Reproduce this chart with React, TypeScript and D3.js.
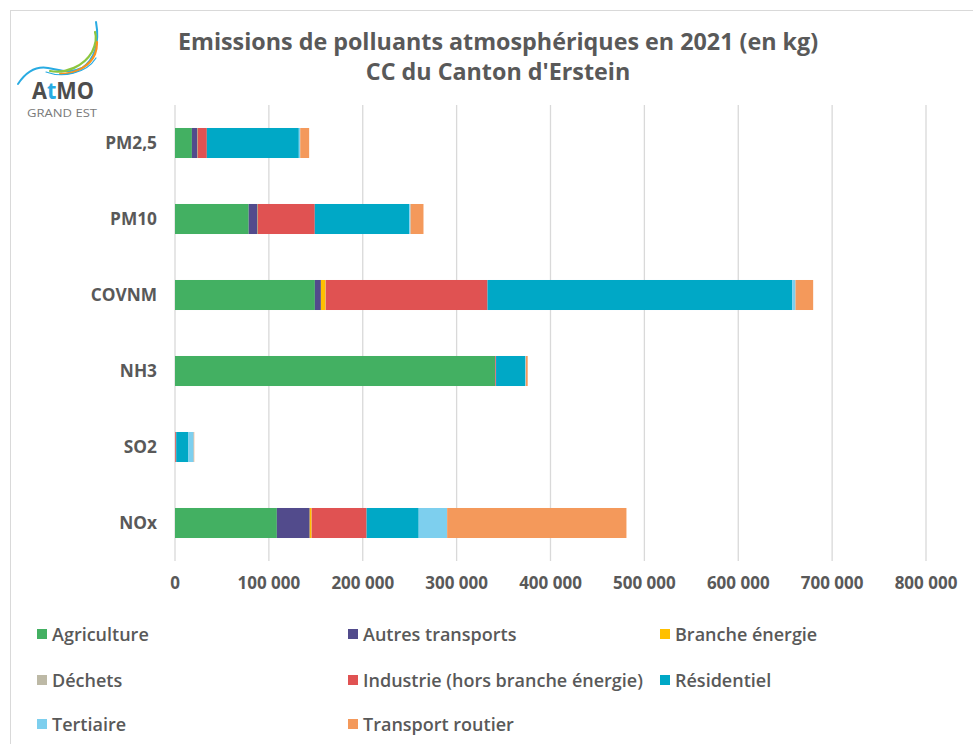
import React from "react";
import * as d3 from "d3";

const categories = ["PM2,5", "PM10", "COVNM", "NH3", "SO2", "NOx"];
const sectors = [
  "Agriculture",
  "Autres transports",
  "Branche énergie",
  "Déchets",
  "Industrie (hors branche énergie)",
  "Résidentiel",
  "Tertiaire",
  "Transport routier",
];
const agriculture = [18000, 78500, 149000, 341000, 0, 108500];
const autresTransports = [6000, 9500, 6400, 300, 200, 35000];
const brancheEnergie = [300, 300, 5000, 0, 100, 2000];
const dechets = [100, 100, 200, 0, 0, 100];
const industrie = [9500, 60500, 172300, 700, 1000, 58500];
const residentiel = [98000, 100500, 324500, 31000, 13000, 55500];
const tertiaire = [1500, 1500, 3600, 700, 5700, 30300];
const transportRoutier = [9500, 13800, 18800, 2000, 500, 191000];
const xTicks = [0, 100000, 200000, 300000, 400000, 500000, 600000, 700000, 800000];
const colors = ["#43b062", "#524b8c", "#ffc000", "#bdb9a6", "#e05252", "#00a8c6", "#7dcfee", "#f4995b"];

const seriesValues = [agriculture, autresTransports, brancheEnergie, dechets, industrie, residentiel, tertiaire, transportRoutier];

const FONT = "'Open Sans', sans-serif";
const TEXT = "#595959";

export default function App() {
  const x = d3.scaleLinear().domain([0, 800000]).range([175, 926]);
  const y = d3.scaleBand().domain(categories).range([105, 561]).paddingInner(0.605).paddingOuter(0.3025);

  const rows = categories.map((c, i) => {
    const r: any = { cat: c };
    sectors.forEach((s, j) => (r[s] = seriesValues[j][i]));
    return r;
  });
  const stacked = d3.stack<any>().keys(sectors)(rows);
  const fmt = d3.formatLocale({ decimal: ",", thousands: " ", grouping: [3], currency: ["", ""] }).format(",d");

  const legendCols = [37, 348, 660];
  const legendRows = [634, 680, 724];

  return (
    <svg width={973} height={744} style={{ position: "absolute", left: 0, top: 0, background: "#fff" }} fontFamily={FONT}>
      <rect x={10.5} y={10.5} width={990} height={760} fill="#fff" stroke="#d9d9d9" strokeWidth={1} />
      {/* logo */}
      <g fill="none" strokeLinecap="round">
        <path d="M18,84 C26,72 36,66 48,68 C60,70 70,74 82,68 C94,60 100,44 96,22" stroke="#29abe2" strokeWidth={2} />
        <path d="M50,71 C66,74 84,66 92,52 C96,44 97,38 95,32" stroke="#8cc63f" strokeWidth={2.2} />
        <path d="M60,74 C76,74 90,66 95,54 C97,49 97,46 97,42" stroke="#f7931e" strokeWidth={2.2} />
        <path d="M46,72 C62,78 86,74 96,58" stroke="#29abe2" strokeWidth={1.2} />
      </g>
      <text x={32} y={99} fontSize={23} fontWeight={700} fill="#4d4d4d" textLength={62} lengthAdjust="spacingAndGlyphs">
        A<tspan fill="#29abe2">t</tspan>MO
      </text>
      <text x={27} y={117} fontSize={10} fontWeight={400} fill="#7a7a7a" textLength={70} lengthAdjust="spacingAndGlyphs">GRAND EST</text>

      {/* title */}
      <text x={498} y={50} textAnchor="middle" fontSize={23.3} fontWeight={700} fill={TEXT}>
        Emissions de polluants atmosphériques en 2021 (en kg)
      </text>
      <text x={498} y={80} textAnchor="middle" fontSize={23.3} fontWeight={700} fill={TEXT}>
        CC du Canton d'Erstein
      </text>

      {/* grid */}
      {xTicks.map((t) => (
        <line key={t} x1={x(t)} x2={x(t)} y1={105} y2={561} stroke="#d9d9d9" strokeWidth={1.3} />
      ))}

      {/* bars */}
      {stacked.map((s, j) => (
        <g key={s.key} fill={colors[j]}>
          {s.map((d: any, i: number) => (
            <rect
              key={i}
              x={x(d[0])}
              y={y(categories[i])!}
              width={Math.max(0, x(d[1]) - x(d[0]))}
              height={y.bandwidth()}
            />
          ))}
        </g>
      ))}

      {/* y labels */}
      {categories.map((c) => (
        <text key={c} x={157} y={y(c)! + y.bandwidth() / 2 + 6} textAnchor="end" fontSize={17.3} fontWeight={700} fill={TEXT}>
          {c}
        </text>
      ))}

      {/* x labels */}
      {xTicks.map((t) => (
        <text key={t} x={x(t)} y={589} textAnchor="middle" fontSize={17} fontWeight={700} fill={TEXT}>
          {fmt(t)}
        </text>
      ))}

      {/* legend */}
      {sectors.map((s, i) => {
        const col = i % 3;
        const row = Math.floor(i / 3);
        const lx = legendCols[col];
        const ly = legendRows[row];
        return (
          <g key={s}>
            <rect x={lx} y={ly - 5} width={10} height={10} fill={colors[i]} />
            <text x={lx + 15} y={ly + 6.5} fontSize={18} fontWeight={600} fill={TEXT}>
              {s}
            </text>
          </g>
        );
      })}
    </svg>
  );
}
